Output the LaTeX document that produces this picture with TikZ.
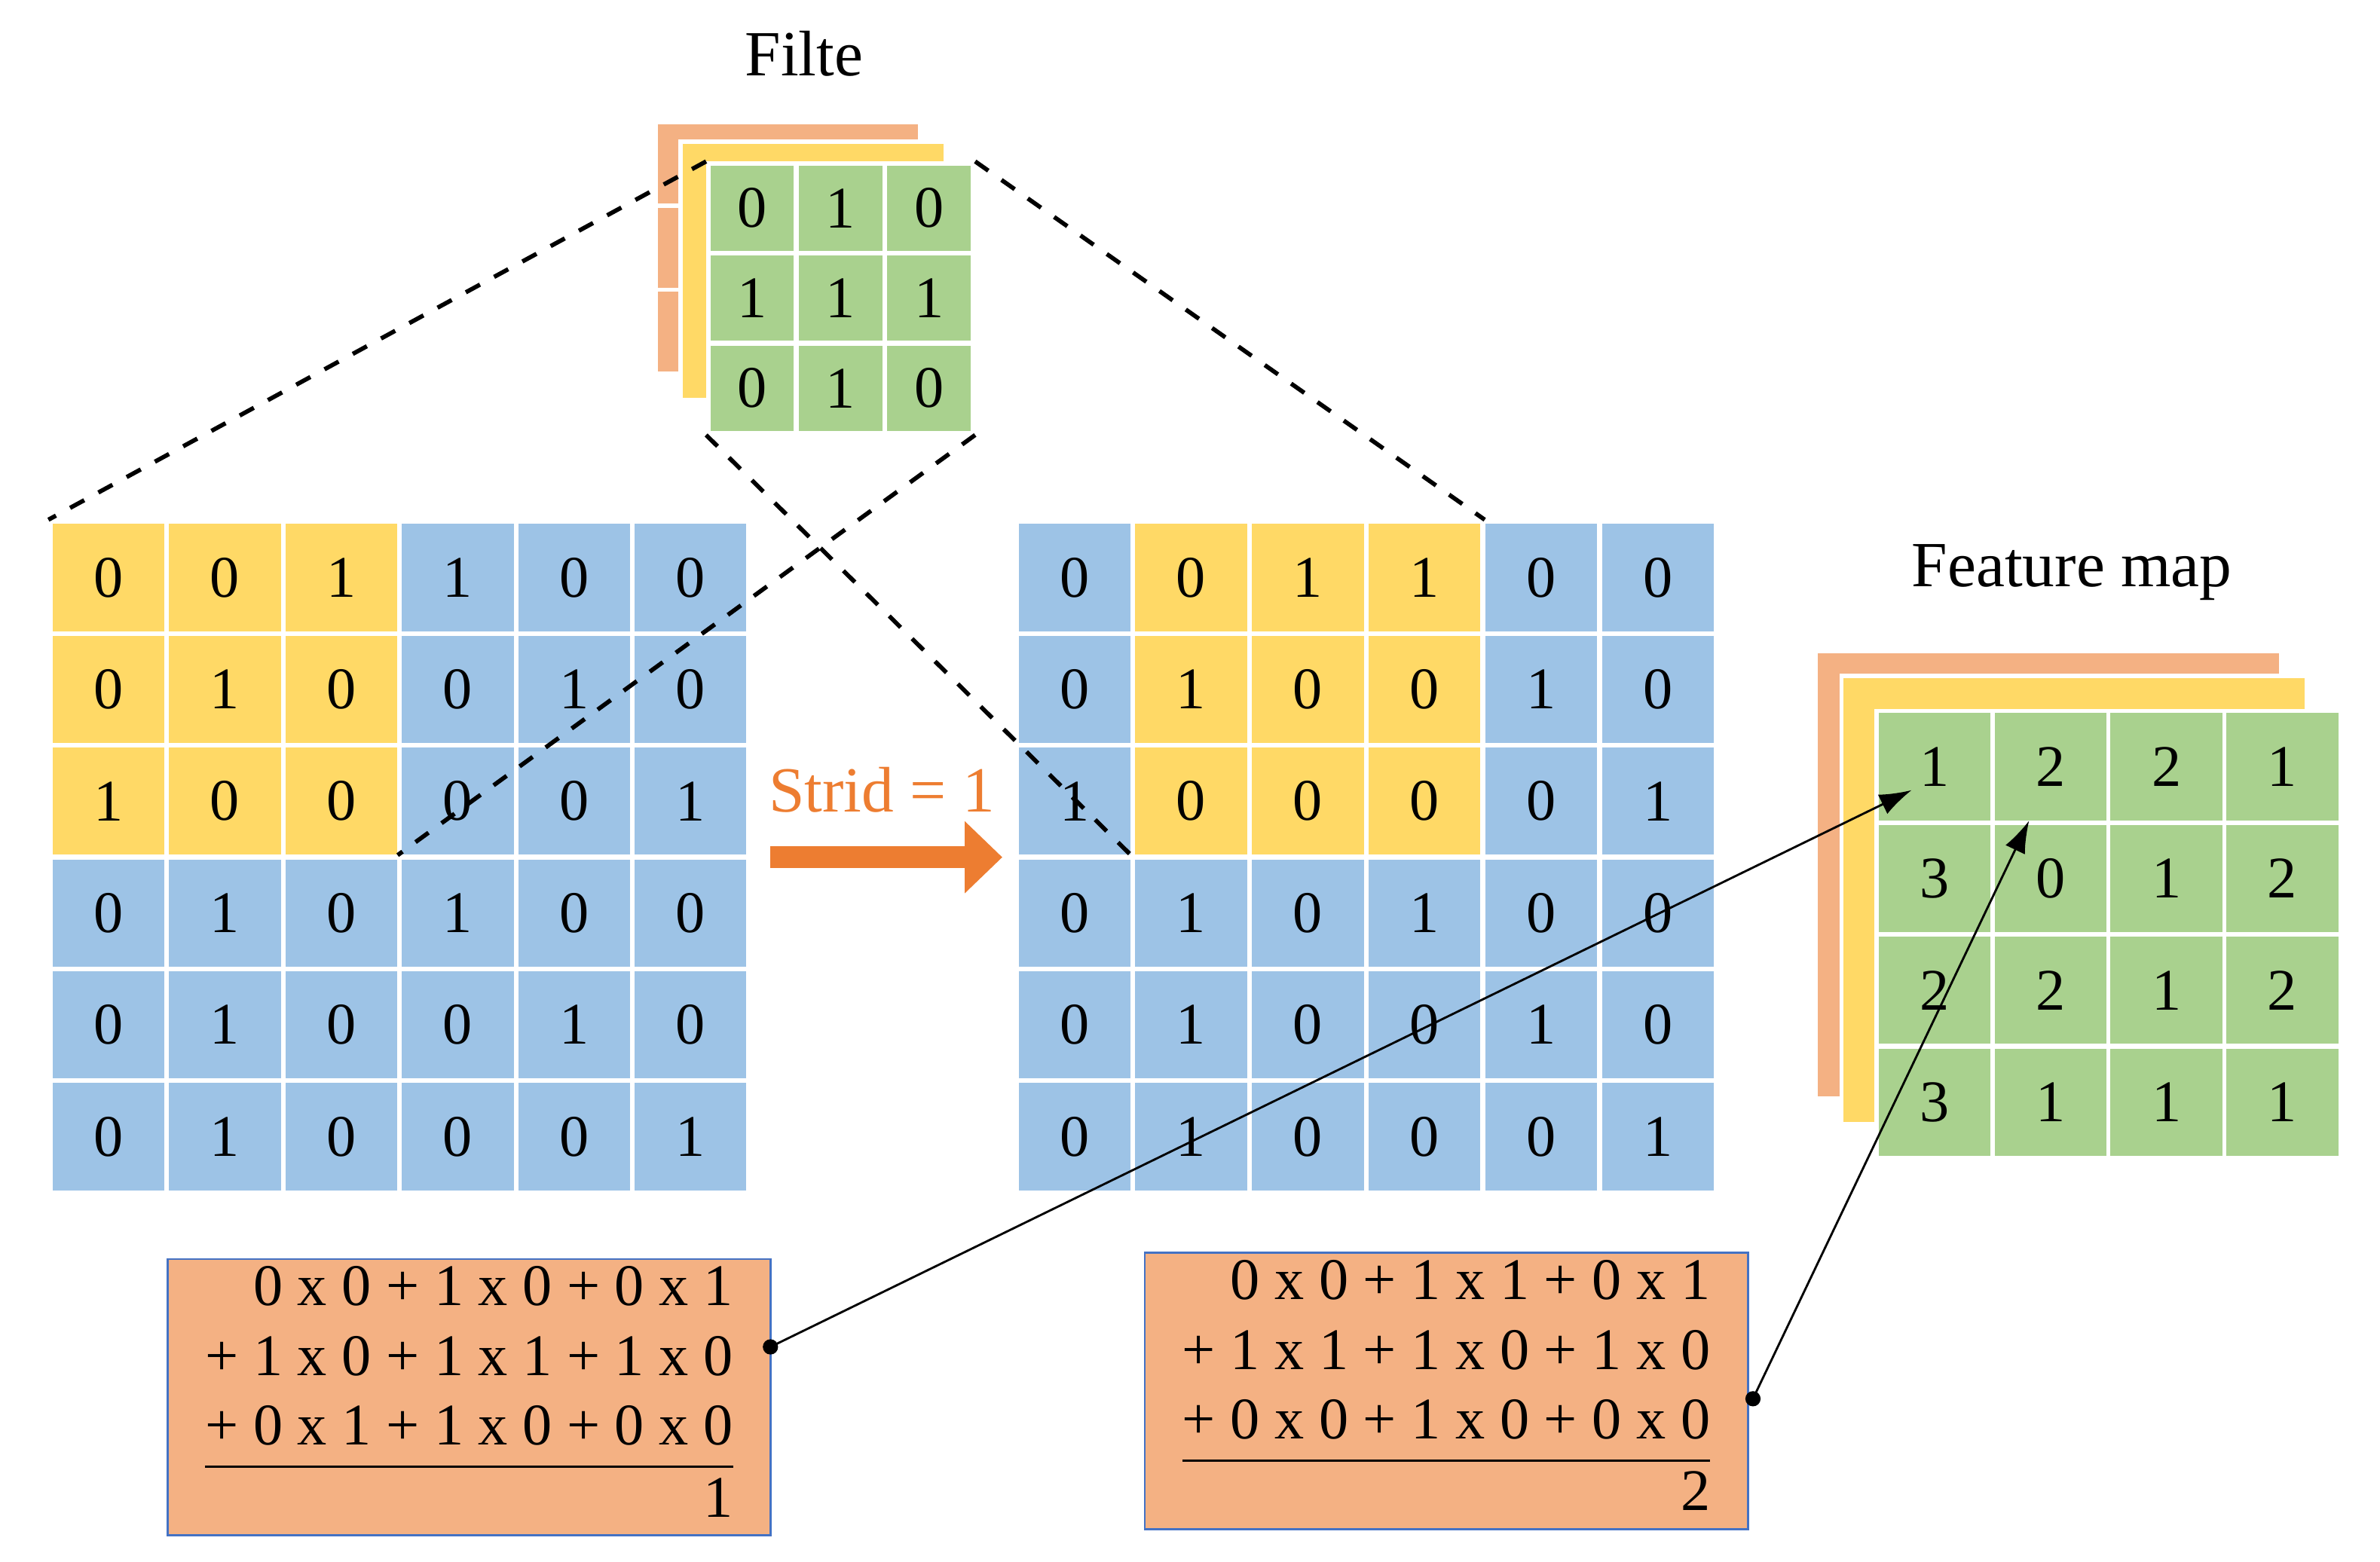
\documentclass[tikz,border=0pt]{standalone}
\usepackage{fontspec}
\setmainfont{Liberation Serif}
\usetikzlibrary{calc,arrows.meta}
\definecolor{cyel}{HTML}{FFD966}
\definecolor{cblu}{HTML}{9DC3E6}
\definecolor{cgrn}{HTML}{A9D18E}
\definecolor{corg}{HTML}{F4B183}
\definecolor{carr}{HTML}{ED7D31}
\definecolor{cbrd}{HTML}{4472C4}
\tikzset{
  cell/.style={ % one square of a grid
    draw=white, thick, minimum width=0.76cm, minimum height=0.73cm,
    inner sep=0pt, font=\fontsize{11}{13}\selectfont
  },
  fcell/.style={ % filter square
    draw=white, thick, minimum width=0.575cm, minimum height=0.585cm,
    inner sep=0pt, font=\fontsize{11}{13}\selectfont
  },
  mcell/.style={ % feature map square
    draw=white, thick, minimum width=0.76cm, minimum height=0.73cm,
    inner sep=0pt, font=\fontsize{11}{13}\selectfont
  },
  sumbox/.style={
    draw=cbrd, fill=corg, minimum width=3.95cm, minimum height=1.81cm
  },
  sumtext/.style={font=\fontsize{11}{13}\selectfont, inner sep=0pt},
  guide/.style={dashed, thick},
  link/.style={-{Latex[length=6pt,width=4pt]}, thin}
}
\begin{document}
\begin{tikzpicture}[x=0.01cm,y=-0.01cm]
  \useasboundingbox (0,0) rectangle (1560,1024);

  % input grids
  \foreach \r/\row in {1/{0,0,1,1,0,0},2/{0,1,0,0,1,0},3/{1,0,0,0,0,1},
                       4/{0,1,0,1,0,0},5/{0,1,0,0,1,0},6/{0,1,0,0,0,1}}{
    \foreach \v [count=\c] in \row {
      \pgfmathsetmacro\ya{(\r<4 && \c<4) ? 1 : 0}
      \pgfmathsetmacro\yb{(\r<4 && \c>1 && \c<5) ? 1 : 0}
      \ifnum\ya=1 \def\fa{cyel}\else\def\fa{cblu}\fi
      \ifnum\yb=1 \def\fb{cyel}\else\def\fb{cblu}\fi
      \node[cell, fill=\fa] (a\r\c) at ({33+76.3*(\c-0.5)},{342+73.3*(\r-0.5)}) {\v};
      \node[cell, fill=\fb] (b\r\c) at ({666+76.5*(\c-0.5)},{342+73.3*(\r-0.5)}) {\v};
    }
  }

  % filter
  \fill[corg] (430,80) rectangle (603,245);
  \foreach \i in {1,2} {\draw[white, thick] (430,{80+55*\i}) -- (446,{80+55*\i});}
  \draw[white, thick] (430,80) rectangle (603,245);
  \fill[cyel] (446,93) rectangle (620,262);
  \draw[white, thick] (446,93) rectangle (620,262);
  \foreach \r/\row in {1/{0,1,0},2/{1,1,1},3/{0,1,0}}{
    \foreach \v [count=\c] in \row {
      \node[fcell, fill=cgrn] (f\r\c) at ({464+58*(\c-0.5)},{107+59*(\r-0.5)}) {\v};
    }
  }
  \node (filt_label) at (527,35) {\fontsize{12}{14}\selectfont Filte};

  % feature map
  \fill[corg] (1190,427) rectangle (1495,720);
  \draw[white, thick] (1190,427) rectangle (1495,720);
  \fill[cyel] (1207,443) rectangle (1512,737);
  \draw[white, thick] (1207,443) rectangle (1512,737);
  \foreach \r/\row in {1/{1,2,2,1},2/{3,0,1,2},3/{2,2,1,2},4/{3,1,1,1}}{
    \foreach \v [count=\c] in \row {
      \node[mcell, fill=cgrn] (m\r\c) at ({1230+76*(\c-0.5)},{466+73.3*(\r-0.5)}) {\v};
    }
  }
  \node (map_label) at (1358,375) {\fontsize{12}{14}\selectfont Feature map};

  % dashed guides
  \draw[guide] (f11.north west) -- (a11.north west);
  \draw[guide] (f13.north east) -- (b14.north east);
  \draw[guide] (f31.south west) -- (b42.north west);
  \draw[guide] (f33.south east) -- (a44.north west);

  % stride arrow
  \node (strid) at (578,518) {\textcolor{carr}{\fontsize{12}{14}\selectfont Strid = 1}};
  \draw[carr, line width=4pt, -{Triangle[length=7pt,width=13pt]}] (505,562) -- (657,562);

  % sums
  \node[sumbox] (lbox) at (307.5,916) {};
  \node[sumtext] (lsum) at (lbox) {\begin{tabular}{@{}r@{}}
    0 x 0 + 1 x 0 + 0 x 1\\ + 1 x 0 + 1 x 1 + 1 x 0\\ + 0 x 1 + 1 x 0 + 0 x 0\\\hline 1\end{tabular}};
  \node[sumbox] (rbox) at (948,912) {};
  \node[sumtext] (rsum) at (rbox) {\begin{tabular}{@{}r@{}}
    0 x 0 + 1 x 1 + 0 x 1\\ + 1 x 1 + 1 x 0 + 1 x 0\\ + 0 x 0 + 1 x 0 + 0 x 0\\\hline 2\end{tabular}};

  \coordinate (ldot) at (505,883);
  \coordinate (rdot) at (1149,917);
  \coordinate (m1tip) at (1253,518);
  \coordinate (m2tip) at (1330,538);
  \fill (ldot) circle (5);
  \fill (rdot) circle (5);
  \draw[link] (ldot) -- (m1tip);
  \draw[link] (rdot) -- (m2tip);
\end{tikzpicture}
\end{document}
